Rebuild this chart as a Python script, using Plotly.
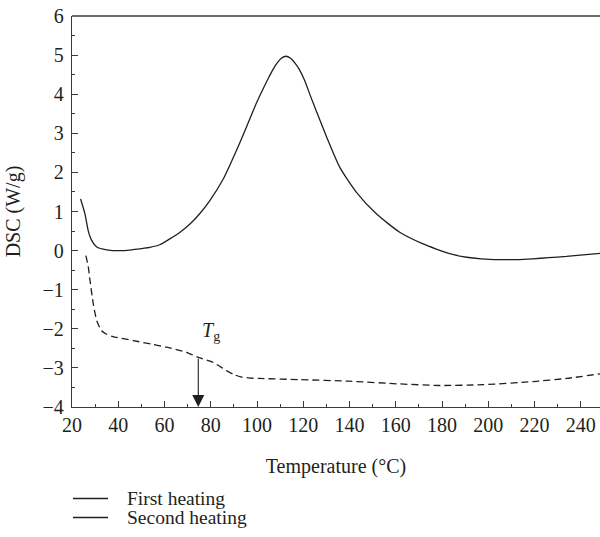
import plotly.graph_objects as go

# First heating (solid)
t1 = [23.7, 25.6, 27.0, 28.5, 30.7, 35.0, 42.2, 47.0, 53.7, 58.0, 62.3, 66.7, 71.0, 75.3, 79.6,
      85.4, 91.1, 95.5, 99.8, 102.5, 105.0, 107.0, 108.5, 110.5, 112.5, 114.5, 116.5, 118.2,
      120.6, 123.0, 125.7, 130.0, 135.8, 143.0, 151.6, 161.7, 171.8, 177.5, 183.3, 190.6,
      197.0, 204.9, 212.0, 219.2, 226.0, 233.8, 241.0, 248.5]
d1 = [1.32, 0.94, 0.51, 0.26, 0.09, 0.02, 0.00, 0.03, 0.085, 0.15, 0.30, 0.47, 0.68, 0.95, 1.28,
      1.83, 2.56, 3.17, 3.78, 4.12, 4.42, 4.64, 4.78, 4.92, 4.97, 4.92, 4.79, 4.64,
      4.35, 3.97, 3.56, 2.92, 2.13, 1.49, 0.94, 0.47, 0.17, 0.04, -0.08, -0.17,
      -0.21, -0.23, -0.23, -0.21, -0.18, -0.15, -0.11, -0.07]

# Second heating (dashed)
t2 = [26.0, 27.0, 27.8, 29.2, 30.7, 32.8, 35.0, 37.7, 46.4, 55.0, 61.0, 69.5, 74.6, 81.0, 86.8,
      90.0, 93.0, 97.0, 101.0, 118.5, 140.0, 161.7, 179.0, 197.6, 219.2, 233.8, 248.5]
d2 = [-0.13, -0.40, -0.77, -1.36, -1.79, -2.05, -2.14, -2.20, -2.30, -2.40, -2.47, -2.60, -2.73,
      -2.86, -3.07, -3.17, -3.23, -3.26, -3.27, -3.30, -3.34, -3.41, -3.45, -3.43, -3.35,
      -3.27, -3.15]

legend_names = ["First heating", "Second heating"]
x_ticks = [20, 40, 60, 80, 100, 120, 140, 160, 180, 200, 220, 240]
y_ticks = [-4, -3, -2, -1, 0, 1, 2, 3, 4, 5, 6]
tg_x = 74.6
tg_y = -2.73

FONT = "Liberation Serif"
INK = "#231f20"
AX = "#3a3a3a"
FS = 20

W, H = 600, 537
ML, MT, MB = 72, 16, 130
PW, PH = W - ML, H - MT - MB

fig = go.Figure()
fig.add_trace(go.Scatter(x=t1, y=d1, mode="lines", name=legend_names[0],
                         line=dict(color=INK, width=1.3, shape="spline", smoothing=0.6),
                         showlegend=False))
fig.add_trace(go.Scatter(x=t2, y=d2, mode="lines", name=legend_names[1],
                         line=dict(color=INK, width=1.3, dash="7px,4px", shape="spline", smoothing=0.6),
                         showlegend=False))

# Tg arrow and label
fig.add_annotation(x=tg_x, y=-4, ax=tg_x, ay=tg_y, xref="x", yref="y", axref="x", ayref="y",
                   showarrow=True, arrowhead=2, arrowsize=2.2, arrowwidth=1.1, arrowcolor=INK, text="")
fig.add_annotation(x=80.0, y=-2.06, xref="x", yref="y", showarrow=False,
                   text="<i>T</i><sub>g</sub>", font=dict(family=FONT, size=FS, color=INK))

# Manual legend (both samples drawn solid, as in the reference)
for i, nm in enumerate(legend_names):
    py = 498.5 + i * 19
    yp = (H - MB - py) / PH
    fig.add_shape(type="line", xref="paper", yref="paper",
                  x0=1 / PW, x1=36 / PW, y0=yp, y1=yp,
                  line=dict(color=INK, width=1.3))
    fig.add_annotation(xref="paper", yref="paper", x=53 / PW, y=yp,
                       xanchor="left", yanchor="middle", showarrow=False, text=nm,
                       font=dict(family=FONT, size=19.5, color=INK))

axis_common = dict(showgrid=False, zeroline=False, showline=True, linecolor=AX, linewidth=1.3,
                   ticks="inside", tickcolor=AX, ticklen=6, tickwidth=1.2, automargin=False,
                   ticklabeloverflow="allow",
                   tickfont=dict(family=FONT, size=FS, color=INK))
fig.update_xaxes(range=[20, 248.3], tickvals=x_ticks,
                 minor=dict(dtick=10, ticks="inside", ticklen=3, tickcolor=AX, tickwidth=1.2),
                 title=dict(text="Temperature (°C)", font=dict(family=FONT, size=FS, color=INK), standoff=23),
                 **axis_common)
fig.update_yaxes(range=[-4, 6], tickvals=y_ticks, ticktext=[str(v).replace("-", "\u2212") for v in y_ticks],
                 ticklabelstandoff=3,
                 minor=dict(dtick=0.5, ticks="inside", ticklen=3, tickcolor=AX, tickwidth=1.2),
                 title=dict(text="DSC (W/g)", font=dict(family=FONT, size=FS, color=INK), standoff=16),
                 **axis_common)
# top border line
fig.add_shape(type="line", xref="paper", yref="paper", x0=0, x1=1, y0=1, y1=1,
              line=dict(color=AX, width=1.3))

fig.update_layout(width=W, height=H, margin=dict(l=ML, r=0, t=MT, b=MB, pad=0),
                  paper_bgcolor="white", plot_bgcolor="white", showlegend=False,
                  font=dict(family=FONT, color=INK))
fig.write_html("out.html", config={"displayModeBar": False},
               post_script="document.body.style.margin='0px';document.body.style.overflow='hidden';")
